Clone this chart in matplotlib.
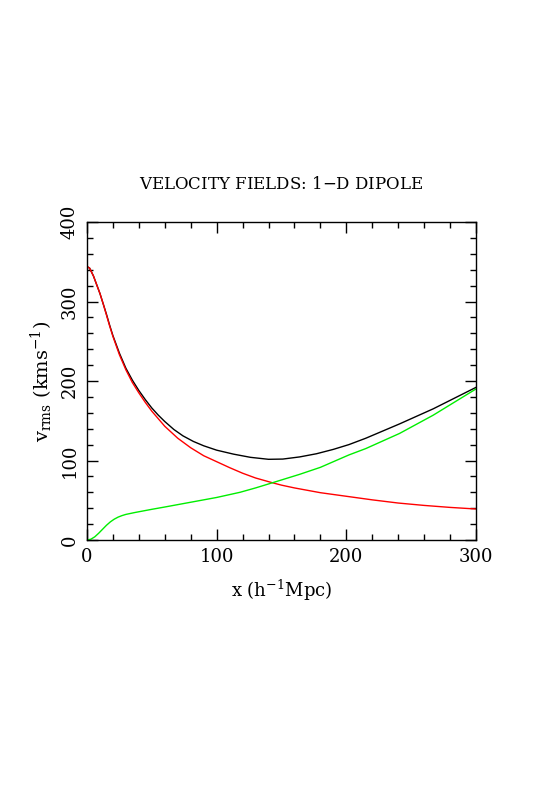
import numpy as np
import matplotlib.pyplot as plt
from matplotlib.ticker import MultipleLocator

# values (x in h^-1 Mpc, v in km/s)
x_red = [0, 2, 5, 7.5, 10, 12.5, 15, 17.5, 20, 25, 30, 35, 40, 45, 50, 60, 70, 80, 90, 100,
         110, 120, 130, 143, 150, 160, 180, 200, 220, 240, 260, 280, 300]
v_red = [344, 342, 332, 321, 310, 297, 283, 269, 256, 233, 214, 198, 185, 173, 162, 143, 128, 116, 106, 98.5,
         91, 84, 78, 72, 69, 65.5, 59.5, 55, 50.5, 46.5, 43.5, 41, 39]

x_green = [0, 3, 6, 9, 12, 15, 18, 21, 24, 27, 30, 37, 50, 60, 75, 90, 100,
           118, 130, 143, 164, 180, 190, 202, 215, 241, 267, 300]
v_green = [0, 1, 4, 8.5, 13.5, 18.5, 22.8, 26.2, 28.8, 30.7, 32.2, 34.6, 38.6, 41.5, 46, 50.5, 53.5,
           60, 65.5, 72, 82.6, 91.4, 98.5, 107, 115, 134, 157, 190]

x_black = [0, 2, 5, 7.5, 10, 12.5, 15, 17.5, 20, 25, 30, 35, 40, 45, 50, 55, 60, 67, 74, 82, 90, 100, 113, 126,
           140, 151, 164, 177, 190, 202, 215, 241, 267, 300]
v_black = [344, 342, 332, 321, 310, 297, 284, 270, 257, 235, 216, 201, 188, 176.5, 166, 157, 149, 139, 131, 124, 118.5, 113, 108, 104,
           101.5, 101.8, 104.5, 108.5, 114, 120, 128, 146, 165, 192]

plt.rcParams['font.family'] = ['DejaVu Serif']
plt.rcParams['mathtext.fontset'] = 'dejavuserif'

fig = plt.figure(figsize=(5.45, 7.93), dpi=100)
ax = fig.add_axes([87/545, 1 - 540/793, (476 - 87)/545, (540 - 222)/793])

ax.plot(x_black, v_black, color='black', lw=1.0)
ax.plot(x_red, v_red, color='#ff0000', lw=1.0)
ax.plot(x_green, v_green, color='#00ee00', lw=1.0)

ax.set_xlim(0, 300)
ax.set_ylim(0, 400)
ax.xaxis.set_major_locator(MultipleLocator(100))
ax.xaxis.set_minor_locator(MultipleLocator(20))
ax.yaxis.set_major_locator(MultipleLocator(100))
ax.yaxis.set_minor_locator(MultipleLocator(20))
ax.tick_params(which='both', direction='in', top=True, right=True, width=1, labelsize=13)
ax.tick_params(which='major', length=8)
ax.tick_params(which='minor', length=4)
ax.tick_params(axis='x', pad=6)
ax.tick_params(axis='y', pad=6)
plt.setp(ax.get_yticklabels(), rotation=90, va='center')
for s in ax.spines.values():
    s.set_linewidth(1)

ax.set_title('VELOCITY FIELDS: 1$-$D DIPOLE', fontsize=12, pad=24)
ax.set_xlabel('x (h$^{-1}$Mpc)', fontsize=13, labelpad=8)
ax.set_ylabel('v$_{\\rm rms}$ (kms$^{-1}$)', fontsize=14, labelpad=4)

fig.savefig('out.png', dpi=100)
